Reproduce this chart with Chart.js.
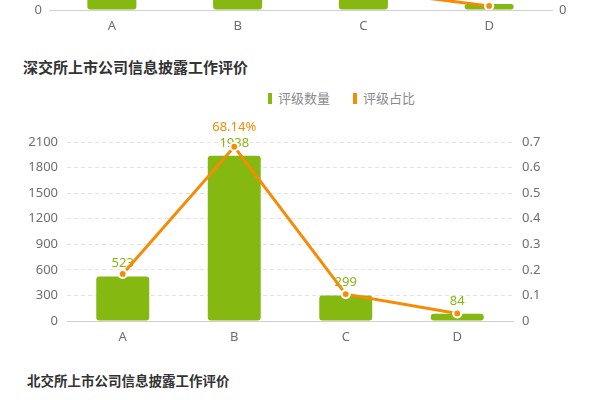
<!DOCTYPE html>
<html>
<head>
<meta charset="utf-8">
<script src="https://cdn.jsdelivr.net/npm/chart.js@4.4.1/dist/chart.umd.min.js"></script>
<style>
    html, body { margin: 0; padding: 0; background: #fff; }
    #page { position: relative; width: 600px; height: 400px; overflow: hidden; }
    canvas { position: absolute; left: 0; }
    .title { position: absolute; font-family: "Noto Sans CJK SC", sans-serif; font-weight: bold; color: #333; white-space: nowrap; line-height: 18px; }
    .legend { position: absolute; left: 268px; top: 90px; font-family: "Noto Sans CJK SC", sans-serif; font-size: 13px; line-height: 16px; color: #8a8a8a; white-space: nowrap; }
    .legend span.mark { display: inline-block; width: 4px; height: 11px; margin-right: 6px; vertical-align: -1px; }
</style>
</head>
<body>
<div id="page">
    <canvas id="prev-chart" width="600" height="240" style="top:-190px"></canvas>
    <div class="title" style="left:23px; top:58px; font-size:15px;">深交所上市公司信息披露工作评价</div>
    <div class="legend">
        <span class="mark" style="background:#86b812"></span>评级数量<span class="mark" style="background:#f68b05; margin-left:23px"></span>评级占比
    </div>
    <canvas id="sz-chart" width="600" height="240" style="top:110px"></canvas>
    <div class="title" style="left:27px; top:371px; font-size:13.5px;">北交所上市公司信息披露工作评价</div>
</div>

<script>
// Datos
const categories = ['A', 'B', 'C', 'D'];
const szCounts = [523, 1938, 299, 84];
const szRatios = [0.1839, 0.6814, 0.1051, 0.0295];
// gráfico anterior (solo se ve la parte baja)
const prevCounts = [1000, 1900, 340, 70];
const prevRatios = [0.24, 0.66, 0.078, 0.016];

const countMax = 2100;
const countStep = 300;
const ratioMax = 0.7;
const ratioStep = 0.1;

const GREEN = '#86b812';
const ORANGE = '#f68b05';

Chart.defaults.font.family = '"Noto Sans", "Noto Sans CJK SC", sans-serif';
Chart.defaults.font.size = 13;
Chart.defaults.color = '#6f6f6f';

// Etiquetas de valor encima de las barras y el % máximo
const valueLabels = {
    id: 'valueLabels',
    afterDatasetDraw(chart, args) {
        if (args.index !== 0) return;
        const ctx = chart.ctx;
        ctx.save();
        ctx.font = '13px "Noto Sans", sans-serif';
        ctx.fillStyle = GREEN;
        ctx.textAlign = 'center';
        ctx.textBaseline = 'middle';
        args.meta.data.forEach((bar, i) => {
            ctx.fillText(chart.data.datasets[0].data[i], bar.x, bar.y - 13);
        });
        ctx.restore();
    },
    afterDatasetsDraw(chart) {
        const ratios = chart.data.datasets[1].data;
        const maxIdx = ratios.indexOf(Math.max(...ratios));
        const pt = chart.getDatasetMeta(1).data[maxIdx];
        const ctx = chart.ctx;
        ctx.save();
        ctx.font = '13px "Noto Sans", sans-serif';
        ctx.fillStyle = ORANGE;
        ctx.textAlign = 'center';
        ctx.textBaseline = 'middle';
        ctx.fillText((ratios[maxIdx] * 100).toFixed(2) + '%', pt.x, pt.y - 19);
        ctx.restore();
    }
};

function buildConfig(counts, ratios, geo) {
    return {
        data: {
            labels: categories,
            datasets: [{
                type: 'bar',
                label: '评级数量',
                data: counts,
                backgroundColor: GREEN,
                borderRadius: 3,
                borderSkipped: false,
                categoryPercentage: 1,
                barPercentage: geo.barPct,
                yAxisID: 'y',
                order: 2
            }, {
                type: 'line',
                label: '评级占比',
                data: ratios,
                borderColor: ORANGE,
                borderWidth: 3,
                tension: 0,
                pointRadius: 4,
                pointBorderWidth: 2.2,
                pointBorderColor: '#fff',
                pointBackgroundColor: ORANGE,
                yAxisID: 'y1',
                order: 1
            }]
        },
        options: {
            responsive: false,
            animation: false,
            events: [],
            layout: { padding: { top: geo.top, left: 0, right: 0, bottom: 0 } },
            plugins: {
                legend: { display: false },
                tooltip: { enabled: false }
            },
            scales: {
                x: {
                    grid: { display: false },
                    border: { display: true, color: '#cfcfcf', width: 1 },
                    ticks: { padding: geo.xPad, color: '#6f6f6f' },
                    afterFit: (scale) => { scale.height = geo.xHeight; }
                },
                y: {
                    position: 'left',
                    min: 0,
                    max: countMax,
                    ticks: { stepSize: countStep, padding: geo.yPad, callback: (v) => String(v) },
                    grid: {
                        drawTicks: false,
                        color: (c) => c.tick && c.tick.value === 0 ? 'rgba(0,0,0,0)' : '#e3e3e3'
                    },
                    border: { display: false, dash: [4, 3] },
                    afterFit: (scale) => { scale.width = geo.left; }
                },
                y1: {
                    position: 'right',
                    min: 0,
                    max: ratioMax,
                    ticks: { stepSize: ratioStep, padding: geo.yPad },
                    grid: { display: false, drawTicks: false },
                    border: { display: false },
                    afterFit: (scale) => { scale.width = geo.right; }
                }
            }
        }
    };
}

// Gráfico anterior, cortado arriba
new Chart(document.getElementById('prev-chart').getContext('2d'),
    buildConfig(prevCounts, prevRatios, { top: 21, xHeight: 40, xPad: 0, yPad: 7, left: 49, right: 48, barPct: 0.39 }));

// Gráfico del Shenzhen
new Chart(document.getElementById('sz-chart').getContext('2d'),
    Object.assign(buildConfig(szCounts, szRatios, { top: 32, xHeight: 29, xPad: 0, yPad: 9, left: 67, right: 87, barPct: 0.475 }),
        { plugins: [valueLabels] }));
</script>
</body>
</html>
